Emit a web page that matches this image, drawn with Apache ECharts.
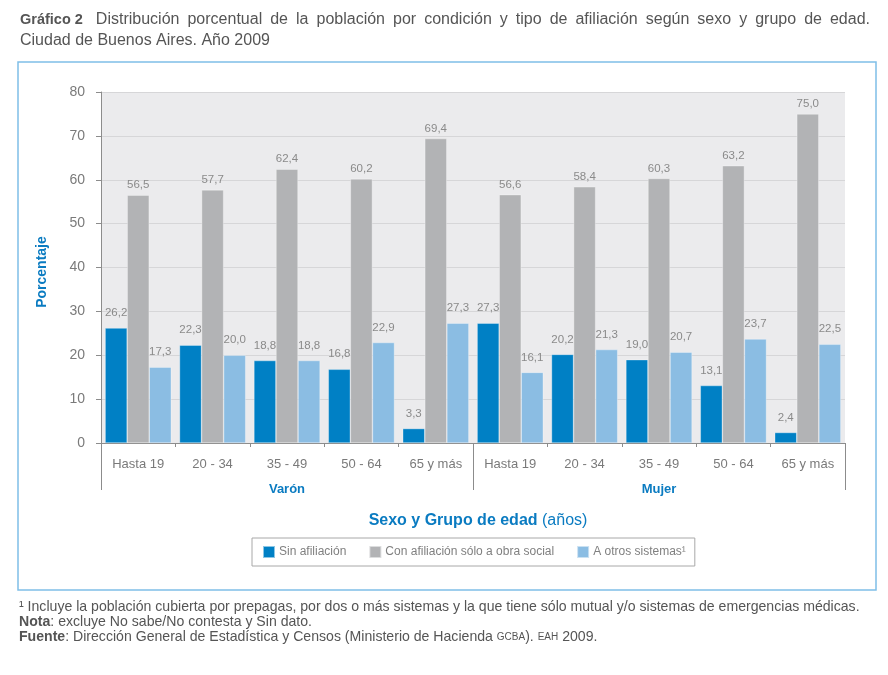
<!DOCTYPE html>
<html><head><meta charset="utf-8">
<script src="https://cdn.jsdelivr.net/npm/echarts@6/dist/echarts.min.js"></script>
<style>html,body{margin:0;padding:0;background:#fff}#c{width:888px;height:675px}</style>
</head><body><div id="c"></div>
<script>
const categories = ['Hasta 19','20 - 34','35 - 49','50 - 64','65 y más','Hasta 19','20 - 34','35 - 49','50 - 64','65 y más'];
const groups = ['Varón','Mujer'];
const seriesNames = ['Sin afiliación','Con afiliación sólo a obra social','A otros sistemas¹'];
const sinAfiliacion = [26.2, 22.3, 18.8, 16.8, 3.3, 27.3, 20.2, 19.0, 13.1, 2.4];
const obraSocial = [56.5, 57.7, 62.4, 60.2, 69.4, 56.6, 58.4, 60.3, 63.2, 75.0];
const otrosSistemas = [17.3, 20.0, 18.8, 22.9, 27.3, 16.1, 21.3, 20.7, 23.7, 22.5];
const colors = ['#0080c5','#b2b3b5','#8bbde3'];
const titleBold = 'Gráfico 2';
const titleLine1 = 'Distribución porcentual de la población por condición y tipo de afiliación según sexo y grupo de edad.';
const titleLine2 = 'Ciudad de Buenos Aires. Año 2009';

const FONT = 'Liberation Sans';
const chart = echarts.init(document.getElementById('c'));

// justified first title line (as in the reference)
const cv = document.createElement('canvas').getContext('2d');
const TS = 16, TB = 14.5;
cv.font = 'bold ' + TB + 'px "' + FONT + '"';
const boldW = cv.measureText(titleBold).width;
cv.font = TS + 'px "' + FONT + '"';
const words = titleLine1.split(' ');
const wordW = words.map(w => cv.measureText(w).width);
const startX = 20, endX = 870, firstGap = 13;
const sumW = wordW.reduce((a, b) => a + b, 0);
const spaceW = (endX - startX - boldW - firstGap - sumW) / (words.length - 1);
const titleEls = [{ type: 'text', x: startX, y: 20, style: { text: titleBold, fill: '#555', fontSize: TB, fontWeight: 'bold', fontFamily: FONT, verticalAlign: 'middle' } }];
let cx = startX + boldW + firstGap;
words.forEach((w, i) => {
  titleEls.push({ type: 'text', x: cx, y: 20, style: { text: w, fill: '#555', fontSize: TS, fontFamily: FONT, verticalAlign: 'middle' } });
  cx += wordW[i] + spaceW;
});
titleEls.push({ type: 'text', x: startX, y: 41, style: { text: titleLine2, fill: '#555', fontSize: TS, fontFamily: FONT, verticalAlign: 'middle' } });

function mk(name, data, color, dist) {
  return { name, type: 'bar', data, barGap: '0%', barCategoryGap: '11%',
    itemStyle: { color, borderColor: 'rgba(255,255,255,0.55)', borderWidth: 0.6 },
    label: { show: true, position: 'top', distance: dist, color: '#8a8a8a', fontSize: 11.5, fontFamily: FONT,
      formatter: p => p.value.toFixed(1).replace('.', ',') } };
}
const FN = 14.1;
const fnRich = { b: { fontWeight: 'bold', fill: '#555', fontSize: FN, fontFamily: FONT }, s: { fill: '#555', fontSize: 10, fontFamily: FONT } };
chart.setOption({
  animation: false,
  textStyle: { fontFamily: FONT },
  grid: { left: 101, right: 43, top: 92, bottom: 232, show: true, backgroundColor: '#ebebed', borderWidth: 0 },
  xAxis: [
    { type: 'category', data: categories, position: 'bottom',
      axisLine: { show: true, lineStyle: { color: '#8c8c8c', width: 1 } },
      axisTick: { show: true, length: 4, lineStyle: { color: '#8c8c8c' } },
      axisLabel: { color: '#7a7a7a', fontSize: 13, margin: 15, fontFamily: FONT } },
    { type: 'category', data: groups, position: 'bottom',
      axisLine: { show: false },
      axisTick: { show: true, length: 47, lineStyle: { color: '#8c8c8c' } },
      axisLabel: { color: '#0a7bc1', fontSize: 13, fontWeight: 'bold', margin: 40, fontFamily: FONT } }
  ],
  yAxis: { type: 'value', min: 0, max: 80, interval: 10,
    axisLine: { show: true, lineStyle: { color: '#8c8c8c' } },
    axisTick: { show: true, length: 5, lineStyle: { color: '#8c8c8c' } },
    axisLabel: { color: '#7a7a7a', fontSize: 14, margin: 16, fontFamily: FONT },
    splitLine: { lineStyle: { color: '#d6d6d8', width: 1 } } },
  legend: { left: 252, top: 538, orient: 'horizontal',
    borderColor: '#a8a8a8', borderWidth: 1, padding: [7, 9, 7, 10],
    itemWidth: 12, itemHeight: 12, itemGap: 22, icon: 'rect',
    textStyle: { color: '#808080', fontSize: 12, fontFamily: FONT, padding: [0, 0, 0, -1] },
    data: seriesNames },
  series: [ mk(seriesNames[0], sinAfiliacion, colors[0], 9), mk(seriesNames[1], obraSocial, colors[1], 4), mk(seriesNames[2], otrosSistemas, colors[2], 9) ],
  graphic: titleEls.concat([
    { type: 'rect', shape: { x: 18, y: 62, width: 858, height: 528 }, style: { fill: 'none', stroke: '#7fbfe8', lineWidth: 1.5 }, silent: true, z: -1 },
    { type: 'text', x: 42, y: 272, rotation: Math.PI / 2, style: { text: 'Porcentaje', fill: '#0a7bc1', fontSize: 14, fontWeight: 'bold', fontFamily: FONT, align: 'center', verticalAlign: 'middle' } },
    { type: 'text', x: 478, y: 521, style: { text: '{b|Sexo y Grupo de edad} (años)', fill: '#0a7bc1', fontSize: 16, fontFamily: FONT, align: 'center', verticalAlign: 'middle',
      rich: { b: { fontWeight: 'bold', fill: '#0a7bc1', fontSize: 16, fontFamily: FONT } } } },
    { type: 'text', x: 19, y: 607, style: { text: '¹ Incluye la población cubierta por prepagas, por dos o más sistemas y la que tiene sólo mutual y/o sistemas de emergencias médicas.', fill: '#555', fontSize: FN, fontFamily: FONT, verticalAlign: 'middle' } },
    { type: 'text', x: 19, y: 622, style: { text: '{b|Nota}: excluye No sabe/No contesta y Sin dato.', fill: '#555', fontSize: FN, fontFamily: FONT, verticalAlign: 'middle', rich: fnRich } },
    { type: 'text', x: 19, y: 637, style: { text: '{b|Fuente}: Dirección General de Estadística y Censos (Ministerio de Hacienda {s|GCBA}). {s|EAH} 2009.', fill: '#555', fontSize: FN, fontFamily: FONT, verticalAlign: 'middle', rich: fnRich } }
  ])
});
</script></body></html>
